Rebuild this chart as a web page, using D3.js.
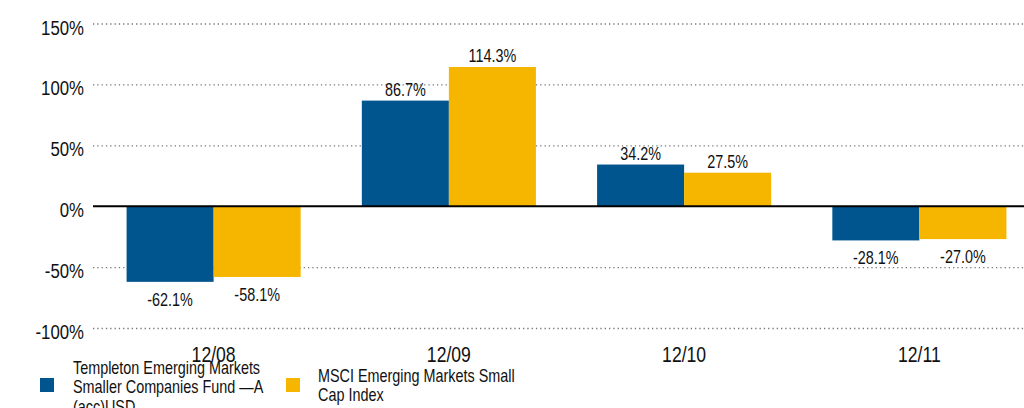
<!DOCTYPE html>
<html>
<head>
<meta charset="utf-8">
<script src="https://cdn.jsdelivr.net/npm/d3@7"></script>
<style>
  html, body { margin: 0; padding: 0; background: #fff; }
  svg { display: block; font-family: "Liberation Sans Narrow", "Liberation Sans", sans-serif; }
</style>
</head>
<body>
<div id="chart"></div>
<script>
const categories = ["12/08", "12/09", "12/10", "12/11"];
const seriesNames = [
  "Templeton Emerging Markets Smaller Companies Fund \u2014A (acc)USD",
  "MSCI Emerging Markets Small Cap Index",
];
const fundValues = [-62.1, 86.7, 34.2, -28.1];
const indexValues = [-58.1, 114.3, 27.5, -27.0];
const yTicks = [-100, -50, 0, 50, 100, 150];
const colors = ["#00558f", "#f6b600"];
const legendLines = [
  ["Templeton Emerging Markets", "Smaller Companies Fund \u2014A", "(acc)USD"],
  ["MSCI Emerging Markets Small", "Cap Index"],
];

const width = 1024, height = 408;
const left = 93;
const sx = 0.8; // squeeze text to look like the condensed face

const svg = d3.select("#chart").append("svg")
  .attr("width", width)
  .attr("height", height);

const y = d3.scaleLinear().domain([-100, 150]).range([328, 23.5]);
const x = d3.scaleBand().domain(categories).range([96, 1037])
  .paddingInner(0.26).paddingOuter(0.13);
const xs = d3.scaleBand().domain([0, 1]).range([0, x.bandwidth()]);

// grid + tick labels
const yAxis = svg.append("g")
  .attr("transform", `translate(${left},0)`)
  .call(d3.axisLeft(y).tickValues(yTicks).tickFormat((d) => d + "%")
    .tickSize(-(width - left)).tickPadding(9));
yAxis.select(".domain").remove();
yAxis.selectAll(".tick line")
  .attr("stroke", "#777")
  .attr("stroke-width", 1.3)
  .attr("stroke-dasharray", "1.3,3")
  .attr("opacity", (d) => (d === 0 ? 0 : 1));
yAxis.selectAll(".tick text")
  .attr("fill", "#111")
  .attr("font-size", 21)
  .attr("x", -9 / sx)
  .attr("transform", `scale(${sx},1)`)
  .attr("dy", "0.5em");

const rows = categories.map((c, i) => ({ cat: c, vals: [fundValues[i], indexValues[i]] }));

const groups = svg.selectAll(".grp").data(rows).enter().append("g")
  .attr("class", "grp")
  .attr("transform", (d) => `translate(${x(d.cat)},0)`);

groups.selectAll("rect").data((d) => d.vals).enter().append("rect")
  .attr("x", (d, i) => xs(i))
  .attr("width", xs.bandwidth())
  .attr("y", (d) => y(Math.max(0, d)))
  .attr("height", (d) => Math.abs(y(d) - y(0)))
  .attr("fill", (d, i) => colors[i]);

groups.selectAll("text.val").data((d) => d.vals).enter().append("text")
  .attr("class", "val")
  .attr("transform", (d, i) =>
    `translate(${xs(i) + xs.bandwidth() / 2},${d >= 0 ? y(d) - 5 : y(d) + 24}) scale(${sx},1)`)
  .attr("text-anchor", "middle")
  .attr("font-size", 18)
  .attr("fill", "#111")
  .text((d) => d.toFixed(1) + "%");

// zero line
svg.append("line")
  .attr("x1", left).attr("x2", width)
  .attr("y1", y(0)).attr("y2", y(0))
  .attr("stroke", "#000")
  .attr("stroke-width", 2);

// category labels
svg.selectAll("text.cat").data(categories).enter().append("text")
  .attr("class", "cat")
  .attr("transform", (d) => `translate(${x(d) + x.bandwidth() / 2},362) scale(${sx},1)`)
  .attr("text-anchor", "middle")
  .attr("font-size", 22)
  .attr("fill", "#111")
  .text((d) => d);

// legend
const legendPos = [
  { sx: 40, tx: 73, y0: 374 },
  { sx: 286, tx: 318, y0: 382 },
];
const legend = svg.selectAll(".leg").data(seriesNames).enter().append("g")
  .attr("class", "leg");
legend.append("rect")
  .attr("x", (d, i) => legendPos[i].sx)
  .attr("y", 378)
  .attr("width", 14)
  .attr("height", 14)
  .attr("fill", (d, i) => colors[i]);
legend.append("text")
  .attr("font-size", 18)
  .attr("fill", "#111")
  .attr("transform", (d, i) => `translate(${legendPos[i].tx},0) scale(${sx},1)`)
  .each(function (d, i) {
    d3.select(this).selectAll("tspan").data(legendLines[i]).enter().append("tspan")
      .attr("x", 0)
      .attr("y", (l, j) => legendPos[i].y0 + j * 19.5)
      .text((l) => l);
  });
</script>
</body>
</html>
